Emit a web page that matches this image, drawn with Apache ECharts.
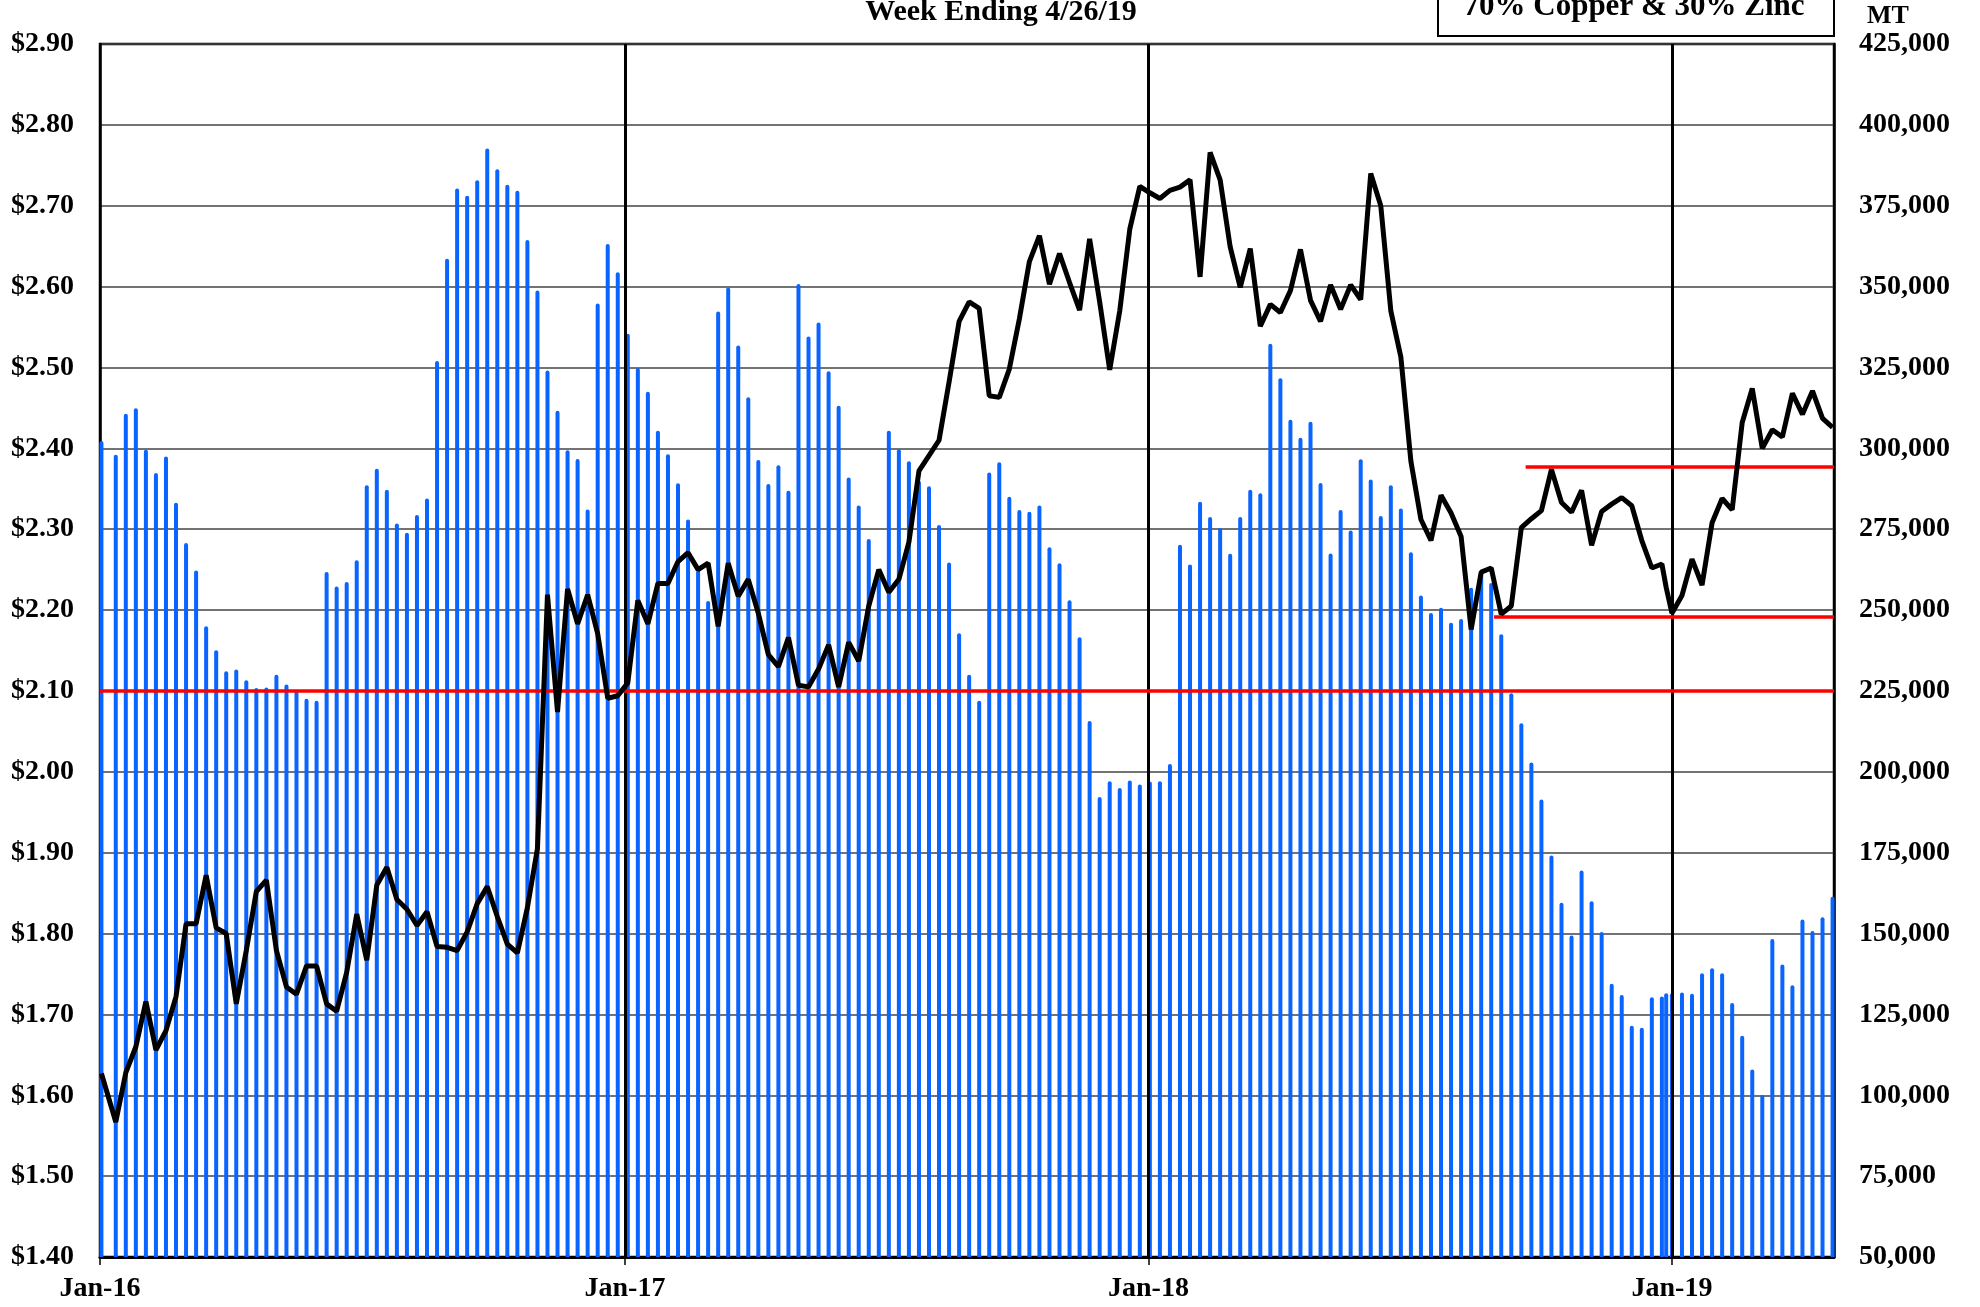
<!DOCTYPE html>
<html>
<head>
<meta charset="utf-8">
<script src="https://cdn.jsdelivr.net/npm/echarts@6/dist/echarts.min.js"></script>
<style>
  html, body { margin: 0; padding: 0; background: #fff; }
  #chart { width: 1980px; height: 1307px; }
</style>
</head>
<body>
<div id="chart"></div>
<script>
// weekly points: one odd first point, then Tuesdays, plus one extra year-end point
const firstDate = '2016-01-02'
const weeklyFrom = [2016, 0, 12]
const weeklyCount = 172
const extraDate = '2018-12-28'

// year ticks on the date axis
const yearTicks = ['2016-01-01', '2017-01-01', '2018-01-01', '2019-01-01']
const yearTickLabels = ['Jan-16', 'Jan-17', 'Jan-18', 'Jan-19']
const yearLines = ['2017-01-01', '2018-01-01', '2019-01-01']
const axisStart = '2016-01-01'
const axisEnd = '2019-04-24'

// stocks, MT (blue bars, right axis)
const stocks = [
  302300, 298000, 310700, 312400, 299600, 292400, 297500, 283200, 270700, 262200,
  245000, 237600, 231100, 231600, 228300, 225900, 226100, 230000, 227000, 225300,
  222600, 222000, 261800, 257300, 258700, 265400, 288600, 293700, 287200, 276800,
  273900, 279400, 284500, 327000, 358600, 380300, 378100, 382900, 392700, 386300,
  381500, 379600, 364400, 348800, 324100, 311600, 299400, 296700, 281100, 344800,
  363200, 354400, 335400, 324800, 317500, 305400, 298200, 289200, 278000, 262200,
  252800, 342300, 349700, 331800, 315800, 296400, 289000, 294800, 286900, 350800,
  334600, 338900, 323800, 313200, 291000, 282300, 272000, 260000, 305400, 299700,
  296000, 290000, 288300, 276300, 264700, 242800, 230000, 222000, 292500, 295700,
  285000, 280900, 280400, 282300, 269400, 264500, 253000, 241600, 215700, 192200,
  197100, 195000, 197300, 196100, 197000, 197100, 202400, 270200, 264100, 283500,
  278800, 275400, 267400, 278800, 287200, 286100, 332300, 321700, 308800, 303300,
  308200, 289300, 267500, 280900, 274600, 296600, 290400, 279100, 288600, 281400,
  267900, 254500, 249100, 250700, 246100, 247200, 256900, 261500, 258400, 242500,
  224300, 215000, 202900, 191400, 174100, 159500, 149400, 169500, 160000, 150500,
  134500, 131000, 121500, 120900, 130300, 130500, 131500, 131500, 131800, 131400,
  137700, 139300, 137700, 128500, 118400, 108000, 100100, 148300, 140400, 134000,
  154300, 150800, 155000, 161400
]

// price, $/lb (black line, left axis)
const prices = [
  1.627, 1.567, 1.628, 1.660, 1.716, 1.656, 1.680, 1.722, 1.812, 1.812,
  1.872, 1.807, 1.800, 1.713, 1.779, 1.852, 1.866, 1.779, 1.734, 1.725,
  1.760, 1.760, 1.713, 1.704, 1.752, 1.824, 1.767, 1.860, 1.882, 1.842,
  1.830, 1.810, 1.827, 1.784, 1.783, 1.779, 1.802, 1.837, 1.858, 1.821,
  1.787, 1.776, 1.832, 1.905, 2.219, 2.074, 2.226, 2.183, 2.219, 2.171,
  2.091, 2.094, 2.110, 2.212, 2.183, 2.233, 2.233, 2.260, 2.271, 2.250,
  2.258, 2.180, 2.258, 2.217, 2.238, 2.196, 2.145, 2.130, 2.166, 2.107,
  2.105, 2.127, 2.157, 2.105, 2.160, 2.137, 2.205, 2.250, 2.222, 2.238,
  2.284, 2.372, 2.391, 2.410, 2.482, 2.557, 2.581, 2.573, 2.465, 2.463,
  2.498, 2.560, 2.631, 2.663, 2.603, 2.641, 2.605, 2.571, 2.659, 2.581,
  2.497, 2.570, 2.671, 2.724, 2.716, 2.709, 2.719, 2.723, 2.732, 2.612,
  2.766, 2.732, 2.649, 2.599, 2.647, 2.551, 2.578, 2.568, 2.595, 2.646,
  2.583, 2.557, 2.602, 2.572, 2.602, 2.584, 2.740, 2.700, 2.570, 2.513,
  2.384, 2.312, 2.286, 2.342, 2.320, 2.291, 2.176, 2.247, 2.252, 2.195,
  2.205, 2.302, 2.313, 2.323, 2.374, 2.333, 2.321, 2.348, 2.280, 2.322,
  2.331, 2.339, 2.329, 2.286, 2.252, 2.257, 2.228, 2.196, 2.218, 2.263,
  2.231, 2.308, 2.338, 2.324, 2.432, 2.474, 2.400, 2.423, 2.414, 2.468,
  2.442, 2.471, 2.437, 2.426
]

// red reference levels: [price, start date]
const supportLine = 2.10
const redLevels = [
  [2.377, '2018-09-21'],
  [2.192, '2018-08-30']
]

const DAY = 86400000
const pad = n => (n < 10 ? '0' : '') + n
const utc = s => { const p = s.split('-'); return Date.UTC(+p[0], +p[1] - 1, +p[2]) }
// x position = days since the axis start
const day = s => Math.round((utc(s) - utc(axisStart)) / DAY)

const dates = [firstDate, extraDate]
for (let i = 0; i < weeklyCount; i++) {
  const d = new Date(Date.UTC(weeklyFrom[0], weeklyFrom[1], weeklyFrom[2] + 7 * i))
  dates.push(d.getUTCFullYear() + '-' + pad(d.getUTCMonth() + 1) + '-' + pad(d.getUTCDate()))
}
dates.sort()

const tickDays = yearTicks.map(day)
const font = 'Liberation Serif'
const chart = echarts.init(document.getElementById('chart'))

chart.setOption({
  animation: false,
  backgroundColor: '#fff',
  grid: {
    left: 100, right: 146, top: 44, bottom: 50,
    show: true, borderColor: '#000', borderWidth: 2.5, backgroundColor: 'transparent'
  },
  xAxis: {
    type: 'value',
    min: day(axisStart),
    max: day(axisEnd),
    axisLine: { show: true, onZero: false, lineStyle: { color: '#000', width: 3 } },
    axisTick: {
      show: true, length: 8, inside: false,
      customValues: tickDays,
      lineStyle: { color: '#000', width: 1.5 }
    },
    axisLabel: {
      customValues: tickDays,
      formatter: v => yearTickLabels[tickDays.indexOf(Math.round(v))] || '',
      fontFamily: font, fontWeight: 'bold', fontSize: 28, color: '#000', margin: 18
    },
    splitLine: { show: false }
  },
  yAxis: [
    {
      type: 'value', position: 'left',
      min: 1.4, max: 2.9, interval: 0.1,
      axisLine: { show: true, lineStyle: { color: '#000', width: 2.5 } },
      axisTick: { show: false },
      axisLabel: {
        formatter: v => '$' + v.toFixed(2),
        fontFamily: font, fontWeight: 'bold', fontSize: 28, color: '#000', margin: 26
      },
      splitLine: { show: true, lineStyle: { color: '#444', width: 1.5 } }
    },
    {
      type: 'value', position: 'right',
      min: 50000, max: 425000, interval: 25000,
      axisLine: { show: true, lineStyle: { color: '#000', width: 2.5 } },
      axisTick: { show: false },
      axisLabel: {
        formatter: v => v.toLocaleString('en-US'),
        fontFamily: font, fontWeight: 'bold', fontSize: 28, color: '#000', margin: 25
      },
      splitLine: { show: false }
    }
  ],
  graphic: [
    {
      type: 'text', x: 1001, y: 12, z: 20,
      style: {
        text: 'Week Ending 4/26/19', fill: '#000',
        font: 'bold 30px "' + font + '"', align: 'center', verticalAlign: 'middle'
      }
    },
    {
      type: 'rect', z: 20,
      shape: { x: 1438, y: -6, width: 396, height: 42 },
      style: { fill: '#fff', stroke: '#000', lineWidth: 2 }
    },
    {
      type: 'text', x: 1634, y: 7, z: 21,
      style: {
        text: '70% Copper & 30% Zinc', fill: '#000',
        font: 'bold 31px "' + font + '"', align: 'center', verticalAlign: 'middle'
      }
    },
    {
      type: 'text', x: 1888, y: 16, z: 20,
      style: {
        text: 'MT', fill: '#000',
        font: 'bold 26px "' + font + '"', align: 'center', verticalAlign: 'middle'
      }
    }
  ],
  series: [
    {
      name: 'Stocks',
      type: 'bar',
      yAxisIndex: 1,
      barWidth: 4,
      z: 2,
      itemStyle: { color: '#0a64ff', borderRadius: [2, 2, 0, 0] },
      data: dates.map((d, i) => [day(d), stocks[i]])
    },
    {
      name: 'Levels',
      type: 'line',
      yAxisIndex: 0,
      data: [],
      markLine: {
        silent: true,
        symbol: ['none', 'none'],
        label: { show: false },
        data: [
          ...yearLines.map(d => ({ xAxis: day(d), lineStyle: { color: '#000', width: 3, type: 'solid' } })),
          { yAxis: supportLine, lineStyle: { color: '#ff0000', width: 3.5, type: 'solid' } },
          ...redLevels.map(([v, d]) => [
            { coord: [day(d), v], lineStyle: { color: '#ff0000', width: 3.5, type: 'solid' } },
            { coord: [day(axisEnd), v] }
          ])
        ]
      }
    },
    {
      name: 'Price',
      type: 'line',
      yAxisIndex: 0,
      z: 10,
      symbol: 'none',
      lineStyle: { color: '#000', width: 5 },
      data: dates.map((d, i) => [day(d), prices[i]])
    }
  ]
})
</script>
</body>
</html>
